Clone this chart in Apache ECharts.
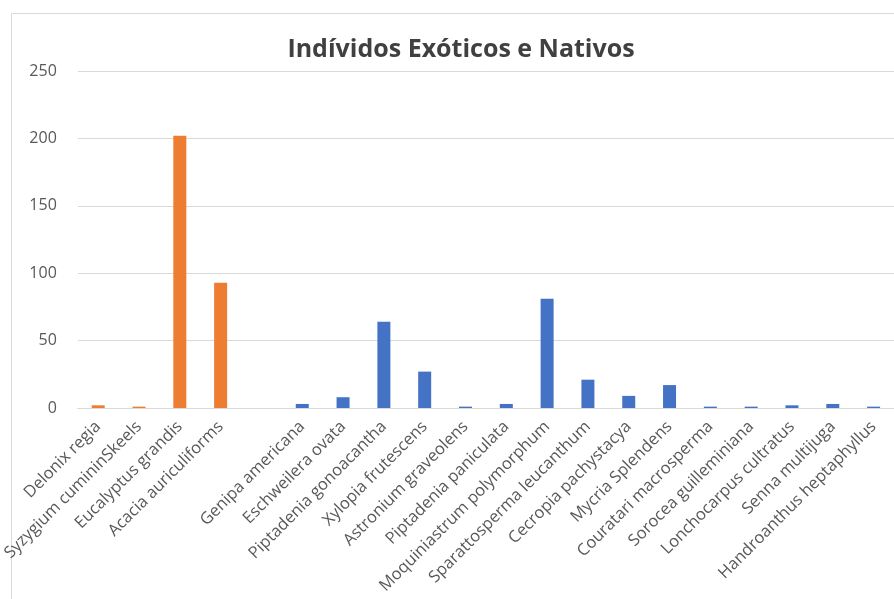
<!DOCTYPE html>
<html>
<head>
<meta charset="utf-8">
<script src="https://cdn.jsdelivr.net/npm/echarts@6/dist/echarts.min.js"></script>
<style>
  html, body { margin: 0; padding: 0; background: #fff; }
  #chart { width: 894px; height: 599px; }
</style>
</head>
<body>
<div id="chart"></div>
<script>
var species = [
  "Delonix regia",
  "Syzygium cumininSkeels",
  "Eucalyptus grandis",
  "Acacia auriculiforms",
  "",
  "Genipa americana",
  "Eschweilera ovata",
  "Piptadenia gonoacantha",
  "Xylopia frutescens",
  "Astronium graveolens",
  "Piptadenia paniculata",
  "Moquiniastrum polymorphum",
  "Sparattosperma leucanthum",
  "Cecropia pachystacya",
  "Mycria Splendens",
  "Couratari macrosperma",
  "Sorocea guilleminiana",
  "Lonchocarpus cultratus",
  "Senna multijuga",
  "Handroanthus heptaphyllus"
];

// exoticas (laranja)
var exoticos = [2, 1, 202, 93, null, null, null, null, null, null, null, null, null, null, null, null, null, null, null, null];
// nativas (azul)
var nativos = [null, null, null, null, null, 3, 8, 64, 27, 1, 3, 81, 21, 9, 17, 1, 1, 2, 3, 1];

var yTicks = { min: 0, max: 250, interval: 50 };

var chartDom = document.getElementById("chart");
var myChart = echarts.init(chartDom);

var option = {
  animation: false,
  title: {
    text: "Indívidos Exóticos e Nativos",
    left: 456,
    textAlign: "center",
    top: 32,
    textStyle: {
      fontFamily: "Open Sans",
      fontWeight: "bold",
      fontSize: 25,
      color: "#404040"
    }
  },
  graphic: [
    {
      type: "rect",
      shape: { x: 11.5, y: 13.5, width: 900, height: 600 },
      style: { fill: "none", stroke: "#d9d9d9", lineWidth: 1 },
      silent: true
    }
  ],
  grid: {
    left: 73,
    top: 71,
    width: 830.6,
    height: 337,
    containLabel: false
  },
  xAxis: {
    type: "category",
    data: species,
    axisTick: { show: false },
    axisLine: { lineStyle: { color: "#d9d9d9" } },
    axisLabel: {
      interval: 0,
      rotate: 45,
      margin: 16,
      color: "#595959",
      fontFamily: "Open Sans",
      fontSize: 16.5
    }
  },
  yAxis: {
    type: "value",
    min: yTicks.min,
    max: yTicks.max,
    interval: yTicks.interval,
    axisLine: { show: false },
    axisTick: { show: false },
    splitLine: { lineStyle: { color: "#d9d9d9" } },
    axisLabel: {
      color: "#595959",
      fontFamily: "Open Sans",
      fontSize: 16,
      margin: 21
    }
  },
  series: [
    {
      name: "Exóticos",
      type: "bar",
      stack: "total",
      barWidth: 13,
      data: exoticos,
      itemStyle: { color: "#ed7d31" }
    },
    {
      name: "Nativos",
      type: "bar",
      stack: "total",
      barWidth: 13,
      data: nativos,
      itemStyle: { color: "#4472c4" }
    }
  ]
};

option && myChart.setOption(option);
</script>
</body>
</html>
